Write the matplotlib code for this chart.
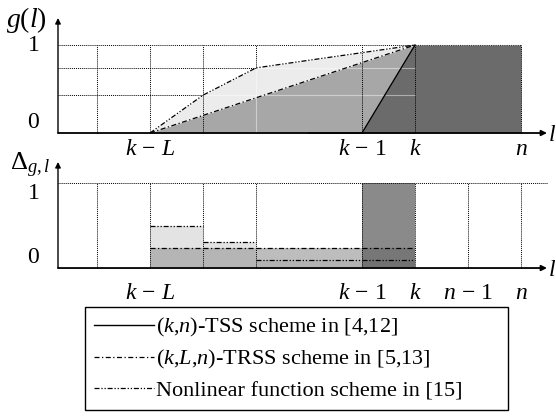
import numpy as np
import matplotlib
matplotlib.use("Agg")
import matplotlib.pyplot as plt

plt.rcParams['font.family'] = 'Liberation Serif'
plt.rcParams['mathtext.fontset'] = 'custom'
plt.rcParams['mathtext.rm'] = 'Liberation Serif'
plt.rcParams['mathtext.it'] = 'Liberation Serif:italic'
plt.rcParams['mathtext.bf'] = 'Liberation Serif:bold'

# positions on the l axis (k-L = 0, ..., n = 7)
l_vals = [0, 1, 2, 3, 4, 5, 6, 7]
grid_top_x = [-1, 0, 1, 4, 5, 7]
grid_bot_x = [-1, 0, 1, 2, 4, 5, 6, 7]
tick_top = [0, 4, 5, 7]
tick_top_lab = [r'$k\,-\,L$', r'$k\,-\,1$', '$k$', '$n$']
tick_bot = [0, 4, 5, 6, 7]
tick_bot_lab = [r'$k\,-\,L$', r'$k\,-\,1$', '$k$', r'$n\,-\,1$', '$n$']

# g(l) for the three schemes (top panel)
tss_g = [0, 0, 0, 0, 0, 1, 1, 1]
trss_g = [0, 0.2, 0.4, 0.6, 0.8, 1, 1, 1]
nonlin_g = [0, 0.43, 0.74, 0.827, 0.913, 1, 1, 1]

# Delta_{g,l} per interval (bottom panel), intervals start at 0..4
d_left = [0, 1, 2, 3, 4]
d_tss = [0, 0, 0, 0, 1]
d_trss = [0.235, 0.235, 0.235, 0.235, 0.235]
d_nonlin = [0.5, 0.31, 0.094, 0.094, 0.094]

labels = [r'($k$,$n$)-TSS scheme in [4,12]',
          r'($k$,$L$,$n$)-TRSS scheme in [5,13]',
          'Nonlinear function scheme in [15]']

W, H = 556, 420
fig = plt.figure(figsize=(W / 100, H / 100), dpi=100)

x0, x1 = -1.736, 7.66
DD = (0, (4, 2, 1, 2))
DDD = (0, (4, 1.5, 1, 1.5, 1, 1.5))
dot = dict(color='k', lw=0.7, ls=(0, (1, 1)))
light = dict(color='white', lw=0.8, alpha=0.45)

# ---------------- top panel ----------------
ax = fig.add_axes([58 / W, 1 - 140 / H, (W - 58) / W, 130 / H])
ax.set_xlim(x0, x1)
ax.set_ylim(-0.0795, 1.398)
ax.axis('off')

l = np.array(l_vals)
tr = np.array(trss_g)
nl = np.array(nonlin_g)
ts = np.array(tss_g)
m = l <= 5
ax.fill_between(l[m], tr[m], nl[m], color='#ececec', lw=0, zorder=1)
ax.fill_between(l[m], 0, tr[m], color='#a7a7a7', lw=0, zorder=1)
m2 = l >= 4
ax.fill_between(l[m2], 0, ts[m2], color='#6b6b6b', lw=0, zorder=2)

# grid
ax.plot([x0, 5], [1, 1], **dot, zorder=3)
ax.plot([x0, 2], [nonlin_g[2]] * 2, **dot, zorder=3)
ax.plot([x0, 1], [nonlin_g[1]] * 2, **dot, zorder=3)
ax.plot([2, 5], [nonlin_g[2]] * 2, **light, zorder=3)
ax.plot([1, 5], [nonlin_g[1]] * 2, **light, zorder=3)
for gx in grid_top_x:
    ax.plot([gx, gx], [0, 1], **dot, zorder=3)
ax.plot([2, 2], [nonlin_g[2], 1], **dot, zorder=3)
ax.plot([2, 2], [0, nonlin_g[2]], **light, zorder=3)
ax.plot([5, 7], [1, 1], color='#333333', lw=0.8, ls=(0, (1, 1)), zorder=3)

h1, = ax.plot(l[3:6], ts[3:6], color='k', lw=1.0, zorder=4)
h2, = ax.plot(l[m], tr[m], color='k', lw=0.9, ls=DD, zorder=4)
h3, = ax.plot(l[m], nl[m], color='k', lw=0.9, ls=DDD, zorder=4)

ax.annotate('', xy=(7.49, 0), xytext=(x0, 0), annotation_clip=False,
            arrowprops=dict(arrowstyle='-|>', lw=1.3, color='k',
                            mutation_scale=8, shrinkA=0, shrinkB=0), zorder=5)
ax.annotate('', xy=(x0, 1.307), xytext=(x0, 0), annotation_clip=False,
            arrowprops=dict(arrowstyle='-|>', lw=1.0, color='k',
                            mutation_scale=8, shrinkA=0, shrinkB=0), zorder=5)
for t, s in zip(tick_top, tick_top_lab):
    ax.text(t, -0.19, s, ha='center', va='center', fontsize=17)
ax.text(-2.2, 1, '1', ha='center', va='center', fontsize=17)
ax.text(-2.2, 0.0, '0', ha='center', va='bottom', fontsize=17)
ax.text(7.5, -0.03, '$l$', ha='left', va='center', fontsize=17, clip_on=False)

# ---------------- bottom panel ----------------
bx = fig.add_axes([58 / W, 1 - 275 / H, (W - 58) / W, 120 / H])
bx.set_xlim(x0, x1)
bx.set_ylim(-0.082, 1.329)
bx.axis('off')

bx.bar(d_left, d_tss, width=1, align='edge', color='#8a8a8a', lw=0, zorder=1)
trss_col = ['#b5b5b5', '#b5b5b5', '#bdbdbd', '#bdbdbd', '#777777']
bx.bar(d_left, d_trss, width=1, align='edge', color=trss_col, lw=0, zorder=2)
extra = [max(a - b, 0) for a, b in zip(d_nonlin, d_trss)]
bx.bar(d_left, extra, bottom=d_trss, width=1, align='edge', color='#e3e3e3',
       lw=0, zorder=2)
under = [a if a < b else 0 for a, b in zip(d_nonlin, d_trss)]
under_col = ['#b0b0b0', '#b0b0b0', '#b3b3b3', '#b3b3b3', '#727272']
bx.bar(d_left, under, width=1, align='edge', color=under_col, lw=0, zorder=2)

bx.plot([x0, 7.5], [1, 1], **dot, zorder=3)
for gx in grid_bot_x:
    bx.plot([gx, gx], [0, 1], **dot, zorder=3)

d_right = [a + 1 for a in d_left]
bx.hlines(d_trss, d_left, d_right, colors='k', lw=0.9, linestyles=[DD], zorder=4)
bx.hlines(d_nonlin, d_left, d_right, colors='k', lw=0.9, linestyles=[DDD],
          zorder=4)

bx.annotate('', xy=(7.49, 0), xytext=(x0, 0), annotation_clip=False,
            arrowprops=dict(arrowstyle='-|>', lw=1.3, color='k',
                            mutation_scale=8, shrinkA=0, shrinkB=0), zorder=5)
bx.annotate('', xy=(x0, 1.247), xytext=(x0, 0), annotation_clip=False,
            arrowprops=dict(arrowstyle='-|>', lw=1.0, color='k',
                            mutation_scale=8, shrinkA=0, shrinkB=0), zorder=5)
for t, s in zip(tick_bot, tick_bot_lab):
    bx.text(t, -0.3, s, ha='center', va='center', fontsize=17)
bx.text(-2.2, 0.88, '1', ha='center', va='center', fontsize=17)
bx.text(-2.2, 0.0, '0', ha='center', va='bottom', fontsize=17)
bx.text(7.5, -0.03, '$l$', ha='left', va='center', fontsize=17, clip_on=False)

fig.text(6 / W, 1 - 20 / H, '$g(l)$', ha='left', va='center', fontsize=20)
fig.text(10 / W, 1 - 165 / H, r'$\Delta_{g,l}$', ha='left', va='center',
         fontsize=19)

leg = fig.legend([h1, h2, h3], labels, loc='upper left',
                 bbox_to_anchor=(85 / W, 1 - 417 / H, (508 - 85) / W, 110 / H),
                 mode='expand', borderaxespad=0, fancybox=False,
                 edgecolor='k', framealpha=1, fontsize=16, handlelength=2.7,
                 handletextpad=0.1, labelspacing=0.42, borderpad=0.4)
leg.get_frame().set_linewidth(1.0)

fig.savefig('out.png', dpi=100)
